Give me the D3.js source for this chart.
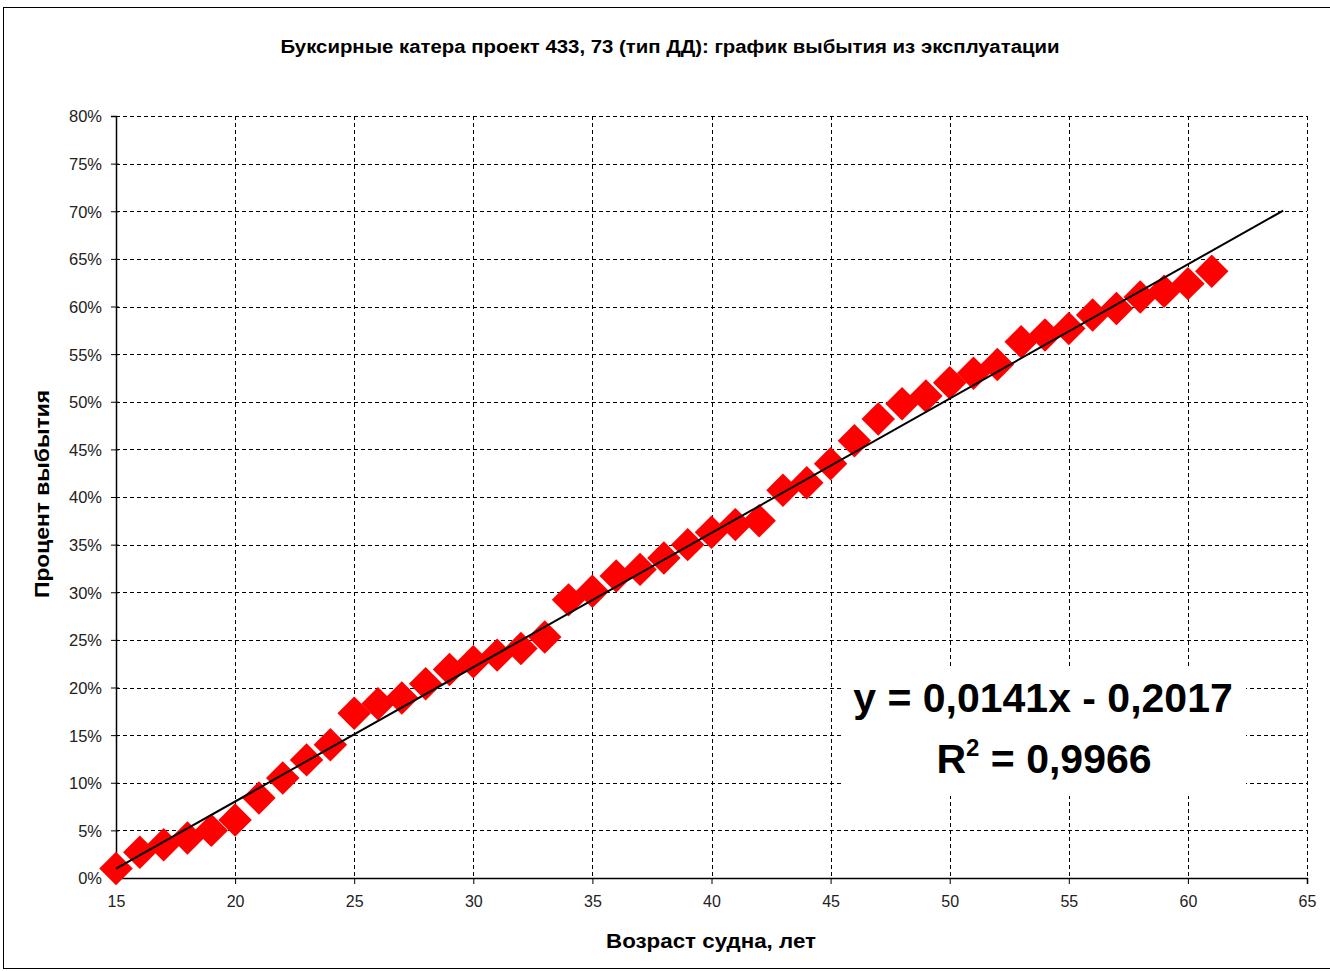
<!DOCTYPE html>
<html><head><meta charset="utf-8">
<script src="https://cdn.jsdelivr.net/npm/d3@7"></script>
<style>body{margin:0;background:#fff}svg{display:block}</style>
</head><body>
<svg id="c" width="1330" height="971"></svg>
<script>
const title = "Буксирные катера проект 433, 73 (тип ДД): график выбытия из эксплуатации";
const xTitle = "Возраст судна, лет";
const yTitle = "Процент выбытия";
const ages = [15,16,17,18,19,20,21,22,23,24,25,26,27,28,29,30,31,32,33,34,35,36,37,38,39,40,41,42,43,44,45,46,47,48,49,50,51,52,53,54,55,56,57,58,59,60,61];
const retired = [0.010,0.027,0.035,0.042,0.050,0.061,0.084,0.105,0.124,0.140,0.173,0.183,0.189,0.204,0.219,0.227,0.234,0.241,0.253,0.292,0.301,0.317,0.324,0.336,0.350,0.363,0.371,0.375,0.407,0.415,0.435,0.459,0.482,0.498,0.506,0.520,0.530,0.539,0.563,0.570,0.577,0.591,0.598,0.610,0.616,0.624,0.637];
const xTicks = [15,20,25,30,35,40,45,50,55,60,65];
const yTicks = [0,0.05,0.10,0.15,0.20,0.25,0.30,0.35,0.40,0.45,0.50,0.55,0.60,0.65,0.70,0.75,0.80];
const trendSlope = 0.0141, trendIntercept = -0.2017;
const trendRange = [15,64];
const eqLine1 = "y = 0,0141x - 0,2017";
const r2Value = "0,9966";

const svg = d3.select("#c");
const L=116, R=1307, T=116, B=878;
const x = d3.scaleLinear().domain([15,65]).range([L,R]);
const y = d3.scaleLinear().domain([0,0.8]).range([B,T]);
const font = "'Liberation Sans', Arial, sans-serif";

svg.append("rect").attr("x",3.5).attr("y",7.5).attr("width",1400).attr("height",961)
  .attr("fill","#fff").attr("stroke","#000").attr("stroke-width",1);

svg.append("text").attr("x",670).attr("y",53).attr("text-anchor","middle")
  .attr("font-family",font).attr("font-weight","bold").attr("font-size",18)
  .attr("textLength",779).attr("lengthAdjust","spacingAndGlyphs").attr("fill","#000").text(title);

// grid
const g = svg.append("g");
g.selectAll(".hg").data(yTicks.filter(d=>d>0)).join("line")
  .attr("x1",L).attr("x2",R).attr("y1",d=>Math.round(y(d))+0.5).attr("y2",d=>Math.round(y(d))+0.5)
  .attr("stroke","#000").attr("stroke-dasharray","4,3").attr("stroke-width",1);
g.selectAll(".vg").data(xTicks.filter(d=>d>15)).join("line")
  .attr("y1",T).attr("y2",B).attr("x1",d=>Math.round(x(d))+0.5).attr("x2",d=>Math.round(x(d))+0.5)
  .attr("stroke","#000").attr("stroke-dasharray","4,3").attr("stroke-width",1);

// axes
const xa = svg.append("g").attr("transform",`translate(0,${B})`)
  .call(d3.axisBottom(x).tickValues(xTicks).tickSize(6).tickFormat(d3.format("d")));
const ya = svg.append("g").attr("transform",`translate(${L},0)`)
  .call(d3.axisLeft(y).tickValues(yTicks).tickSize(5).tickFormat(d=>Math.round(d*100)+"%"));
[xa,ya].forEach(a=>{
  a.select(".domain").attr("stroke","#000").attr("stroke-width",1.5);
  a.selectAll(".tick line").attr("stroke","#000");
  a.selectAll(".tick text").attr("font-family",font).attr("font-size",16).attr("fill","#222");
});
xa.selectAll(".tick text").attr("dy","1.25em");
ya.selectAll(".tick text").attr("font-size",16.5).attr("dy","0.36em").attr("x",-14);
ya.selectAll(".tick line").attr("x1",-5).attr("x2",3);

// points
const diamond = d3.symbol().type(d3.symbolSquare).size(560);
svg.append("g").selectAll("path").data(ages.map((a,i)=>[a,retired[i]])).join("path")
  .attr("d",diamond).attr("transform",d=>`translate(${x(d[0])},${y(d[1])}) rotate(45)`)
  .attr("fill","#ff0000");

// trendline
svg.append("line").attr("x1",x(trendRange[0])).attr("y1",y(trendSlope*trendRange[0]+trendIntercept))
  .attr("x2",x(trendRange[1])).attr("y2",y(trendSlope*trendRange[1]+trendIntercept))
  .attr("stroke","#000").attr("stroke-width",2);

// equation label
svg.append("rect").attr("x",843).attr("y",666).attr("width",403).attr("height",130).attr("fill","#fff");
svg.append("text").attr("x",1043).attr("y",712).attr("text-anchor","middle")
  .attr("font-family",font).attr("font-weight","bold").attr("font-size",41).attr("fill","#000").text(eqLine1);
const r2 = svg.append("text").attr("x",1044).attr("y",773).attr("text-anchor","middle")
  .attr("font-family",font).attr("font-weight","bold").attr("font-size",41).attr("fill","#000");
r2.append("tspan").text("R");
r2.append("tspan").attr("font-size",24).attr("dy",-17).text("2");
r2.append("tspan").attr("dy",17).text(" = "+r2Value);

// axis titles
svg.append("text").attr("x",711).attr("y",948).attr("text-anchor","middle")
  .attr("font-family",font).attr("font-weight","bold").attr("font-size",20)
  .attr("textLength",210).attr("lengthAdjust","spacingAndGlyphs").text(xTitle);
svg.append("text").attr("transform","translate(49,494) rotate(-90)").attr("text-anchor","middle")
  .attr("font-family",font).attr("font-weight","bold").attr("font-size",20)
  .attr("textLength",208).attr("lengthAdjust","spacingAndGlyphs").text(yTitle);
</script>
</body></html>
